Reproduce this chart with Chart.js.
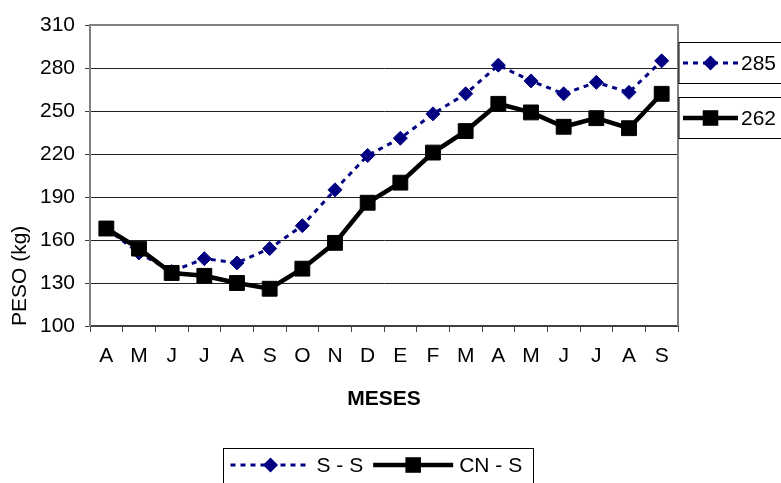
<!DOCTYPE html>
<html>
<head>
<meta charset="utf-8">
<script src="https://cdn.jsdelivr.net/npm/chart.js@4.4.0/dist/chart.umd.min.js"></script>
<style>
  html, body { margin: 0; padding: 0; background: #fff; }
  #wrap { width: 781px; height: 483px; position: relative; }
</style>
</head>
<body>
<div id="wrap"><canvas id="chart"></canvas></div>
<script>
// ===== DATA =====
const months = ["A", "M", "J", "J", "A", "S", "O", "N", "D", "E", "F", "M", "A", "M", "J", "J", "A", "S"];
const ssValues = [168, 151, 138, 147, 144, 154, 170, 195, 219, 231, 248, 262, 282, 271, 262, 270, 263, 285];
const cnsValues = [168, 154, 137, 135, 130, 126, 140, 158, 186, 200, 221, 236, 255, 249, 239, 245, 238, 262];
const seriesNames = ["S - S", "CN - S"];
const yMin = 100, yMax = 310, yStep = 30;

const FONT = "'Liberation Sans', Arial, sans-serif";
const FS = 21;

// ===== MARKERS =====
function drawMarker(ctx, style, x, y, r) {
  ctx.beginPath();
  if (style === "rectRot") {
    ctx.moveTo(x, y - r);
    ctx.lineTo(x + r, y);
    ctx.lineTo(x, y + r);
    ctx.lineTo(x - r, y);
  } else {
    const s = r * Math.SQRT1_2;
    ctx.rect(x - s, y - s, 2 * s, 2 * s);
  }
  ctx.closePath();
  ctx.fill();
}

function drawSample(ctx, ds, x0, x1, y) {
  ctx.save();
  ctx.strokeStyle = ds.borderColor;
  ctx.lineWidth = ds.borderWidth;
  ctx.setLineDash(ds.borderDash || []);
  ctx.beginPath();
  ctx.moveTo(x0, y);
  ctx.lineTo(x1, y);
  ctx.stroke();
  ctx.setLineDash([]);
  ctx.fillStyle = ds.pointBackgroundColor;
  drawMarker(ctx, ds.pointStyle, (x0 + x1) / 2, y, ds.pointRadius + 0.5);
  ctx.restore();
}

// ===== LEGENDS (bottom box + last-value boxes on the right) =====
const legendBoxes = {
  id: "legendBoxes",
  afterDraw(chart) {
    const ctx = chart.ctx;
    const area = chart.chartArea;
    const sets = [chart.data.datasets[0], chart.data.datasets[1]];
    ctx.save();
    ctx.font = FS + "px " + FONT;
    ctx.textBaseline = "middle";
    ctx.fillStyle = "#000";

    // right side boxes
    sets.forEach((ds, i) => {
      const top = 42.5 + i * 55;
      ctx.strokeStyle = "#000";
      ctx.lineWidth = 1;
      ctx.strokeRect(area.right + 1, top, 120, 41);
      const cy = top + 20.5;
      drawSample(ctx, ds, area.right + 5, area.right + 60, cy);
      ctx.fillStyle = "#000";
      ctx.fillText(String(ds.data[ds.data.length - 1]), area.right + 63, cy + 1);
    });

    // bottom legend
    const bx = 223.5, by = 448.5;
    ctx.strokeStyle = "#000";
    ctx.lineWidth = 1;
    ctx.strokeRect(bx, by, 310, 60);
    let x = bx + 7;
    const cy = 465;
    sets.forEach((ds) => {
      drawSample(ctx, ds, x, x + 80, cy);
      x += 86;
      ctx.fillStyle = "#000";
      ctx.fillText(ds.label, x, cy + 1);
      x += ctx.measureText(ds.label).width + 10;
    });
    ctx.restore();
  }
};

// plot frame
const plotFrame = {
  id: "plotFrame",
  beforeDatasetsDraw(chart) {
    const { ctx, chartArea: a } = chart;
    ctx.save();
    ctx.strokeStyle = "#808080";
    ctx.lineWidth = 2;
    ctx.beginPath();
    ctx.moveTo(a.left, a.top);
    ctx.lineTo(a.right, a.top);
    ctx.lineTo(a.right, a.bottom);
    ctx.stroke();
    ctx.restore();
  }
};

// ===== CHART =====
new Chart(document.getElementById("chart"), {
  type: "line",
  data: {
    labels: months,
    datasets: [
      {
        label: seriesNames[0],
        data: ssValues,
        borderColor: "#000080",
        borderWidth: 3,
        borderDash: [5, 5],
        pointStyle: "rectRot",
        pointRadius: 7,
        pointBackgroundColor: "#000080",
        pointBorderColor: "#000080",
        pointBorderWidth: 1,
        tension: 0,
        order: 1
      },
      {
        label: seriesNames[1],
        data: cnsValues,
        borderColor: "#000",
        borderWidth: 4.5,
        pointStyle: "rect",
        pointRadius: 10.5,
        pointBackgroundColor: "#000",
        pointBorderColor: "#000",
        pointBorderWidth: 1,
        tension: 0,
        order: 0
      }
    ]
  },
  options: {
    responsive: true,
    maintainAspectRatio: false,
    animation: false,
    devicePixelRatio: 1,
    layout: { padding: { top: 25, right: 103, bottom: 71, left: 0 } },
    plugins: {
      legend: { display: false },
      tooltip: { enabled: false }
    },
    scales: {
      x: {
        type: "category",
        offset: true,
        afterFit: (s) => { s.height = 86; },
        grid: {
          display: true,
          offset: true,
          drawOnChartArea: false,
          drawTicks: true,
          tickLength: 6,
          color: "#404040"
        },
        border: { display: true, color: "#404040", width: 2 },
        ticks: {
          color: "#000",
          padding: 12,
          maxRotation: 0,
          autoSkip: false,
          font: { family: FONT, size: FS }
        },
        title: {
          display: true,
          text: "MESES",
          color: "#000",
          padding: { top: 18, bottom: 0 },
          font: { family: FONT, size: FS, weight: "bold" }
        }
      },
      y: {
        min: yMin,
        max: yMax,
        afterFit: (s) => { s.width = 90; },
        grid: {
          color: "#222",
          lineWidth: 1,
          drawTicks: true,
          tickLength: 5,
          tickColor: "#404040"
        },
        border: { display: true, color: "#808080", width: 2 },
        ticks: {
          stepSize: yStep,
          color: "#000",
          padding: 10,
          font: { family: FONT, size: FS }
        },
        title: {
          display: true,
          text: "PESO (kg)",
          align: "start",
          color: "#000",
          padding: { top: 8, bottom: 0 },
          font: { family: FONT, size: FS }
        }
      }
    }
  },
  plugins: [plotFrame, legendBoxes]
});
</script>
</body>
</html>
